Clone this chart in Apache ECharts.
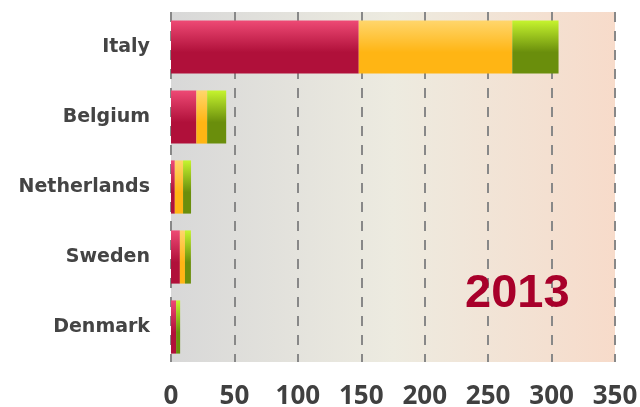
<!DOCTYPE html>
<html>
<head>
<meta charset="utf-8">
<script src="https://cdn.jsdelivr.net/npm/echarts@6/dist/echarts.min.js"></script>
<style>html,body{margin:0;padding:0;background:#fff}#c{width:640px;height:407px}</style>
</head>
<body>
<div id="c"></div>
<script>
var categories = ['Italy', 'Belgium', 'Netherlands', 'Sweden', 'Denmark'];
var seriesA = [148, 20, 3, 7, 4];
var seriesB = [121, 8.5, 6.5, 4, 0];
var seriesC = [36.5, 15, 6.3, 4.7, 3.2];
var xTicks = [0, 50, 100, 150, 200, 250, 300, 350];
var yearLabel = '2013';

function vgrad(top, bottom) {
  return new echarts.graphic.LinearGradient(0, 0, 0, 1, [
    {offset: 0, color: top},
    {offset: 0.6, color: bottom},
    {offset: 1, color: bottom}
  ]);
}

var chart = echarts.init(document.getElementById('c'), null, {renderer: 'canvas'});
chart.setOption({
  animation: false,
  grid: {
    left: 171, right: 25, top: 12, bottom: 45,
    containLabel: false, outerBoundsMode: 'none',
    show: true, borderWidth: 0,
    backgroundColor: new echarts.graphic.LinearGradient(0, 0, 1, 0, [
      {offset: 0, color: '#d8d8d8'},
      {offset: 0.5, color: '#edebe0'},
      {offset: 1, color: '#f7dbca'}
    ])
  },
  xAxis: {
    type: 'value', min: xTicks[0], max: xTicks[xTicks.length - 1], interval: 50,
    axisLine: {show: false}, axisTick: {show: false},
    splitLine: {show: true, lineStyle: {color: '#888888', width: 2, type: [10, 9]}},
    axisLabel: {
      margin: 22, color: '#404040', fontFamily: 'Open Sans', fontWeight: 'bold', fontSize: 26
    }
  },
  yAxis: {
    type: 'category', data: categories, inverse: true,
    axisLine: {show: false}, axisTick: {show: false},
    axisLabel: {margin: 21, color: '#444444', fontFamily: 'DejaVu Sans', fontWeight: 'bold', fontSize: 19}
  },
  series: [
    {type: 'bar', stack: 's', data: seriesA, barCategoryGap: '24%',
     itemStyle: {color: vgrad('#ee4a75', '#b0103a')}},
    {type: 'bar', stack: 's', data: seriesB,
     itemStyle: {color: vgrad('#ffd66c', '#ffb514')}},
    {type: 'bar', stack: 's', data: seriesC,
     itemStyle: {color: vgrad('#c6f42e', '#6a8e0c')}}
  ],
  graphic: [{
    type: 'text', left: 465, top: 271, z: 100,
    style: {text: yearLabel, fill: '#a8002a', font: 'bold 47px "Liberation Sans", Arial, sans-serif'}
  }]
});
</script>
</body>
</html>
